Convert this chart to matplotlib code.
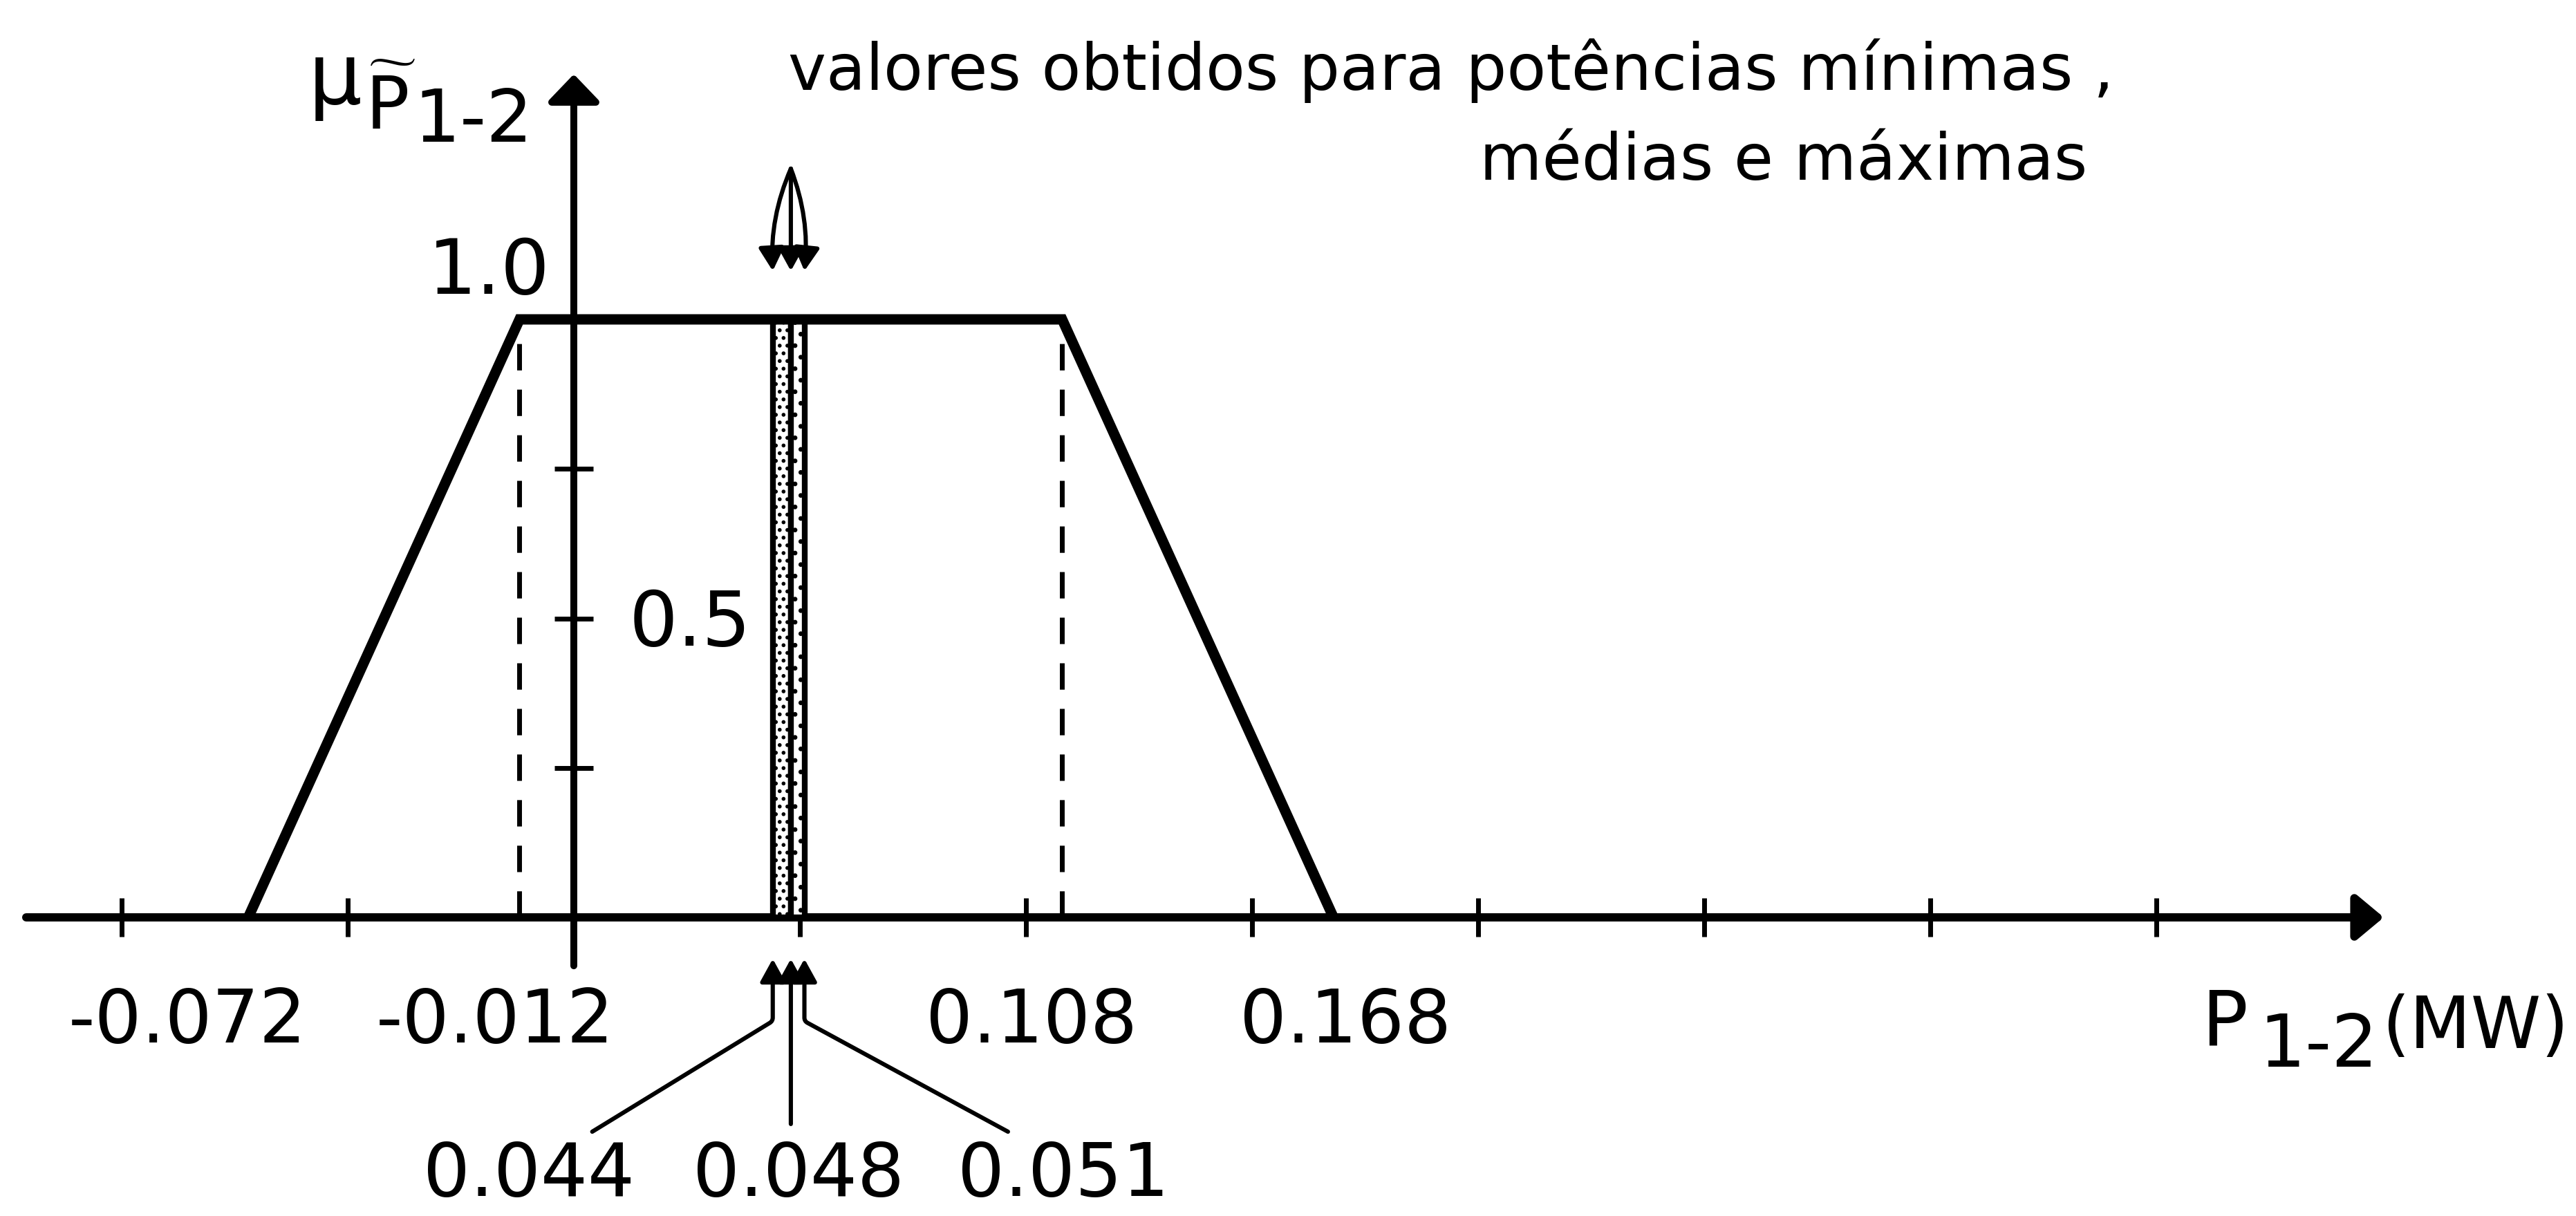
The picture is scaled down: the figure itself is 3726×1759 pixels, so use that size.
import numpy as np
import matplotlib
matplotlib.use("Agg")
import matplotlib.pyplot as plt

plt.rcParams['font.family'] = ['DejaVu Sans']
plt.rcParams['mathtext.fontset'] = 'dejavusans'
plt.rcParams['hatch.linewidth'] = 1.2
plt.rcParams['hatch.color'] = 'black'

# Trapezoidal membership function of the line flow P1-2 (MW)
trap_p = [-0.072, -0.012, 0.108, 0.168]
trap_mu = [0.0, 1.0, 1.0, 0.0]
corner_labels = ['-0.072', '-0.012', '0.108', '0.168']

# Flows obtained for minimum, mean and maximum powers (MW)
flow_p = [0.044, 0.048, 0.051]
flow_labels = ['0.044', '0.048', '0.051']

# Unlabelled axis ticks
x_ticks = [-0.10, -0.05, 0.05, 0.10, 0.15, 0.20, 0.25, 0.30, 0.35]
y_ticks = [0.25, 0.5, 0.75]

W, H, DPI = 3726, 1759, 200
fig = plt.figure(figsize=(W / DPI, H / DPI), dpi=DPI)
fig.patch.set_facecolor('white')
ax = fig.add_axes([0, 0, 1, 1])
ax.set_xlim(-0.1269, 0.4428)
ax.set_ylim(-0.4994, 1.5341)
ax.set_facecolor('white')


def fxy(px, py):
    """Figure-fraction position from pixel offsets (origin top-left)."""
    return px / W, 1 - py / H


# Axes drawn as arrows through the origin
for s in ax.spines.values():
    s.set_visible(False)
ax.spines['left'].set_position(('data', 0))
ax.spines['bottom'].set_position(('data', 0))
ax.set_xticks(x_ticks)
ax.set_yticks(y_ticks)
ax.tick_params(axis='both', direction='inout', length=20, width=2.5,
               labelbottom=False, labelleft=False, color='black')

head = dict(color='black', shrinkA=0, shrinkB=0, mutation_scale=10)
ax.annotate('', xy=(0.4003, 0), xytext=(-0.1211, 0),
            arrowprops=dict(arrowstyle='-|>,head_length=1.2,head_width=1.0',
                            lw=4.3, **head))
ax.annotate('', xy=(0, 1.41), xytext=(0, -0.081),
            arrowprops=dict(arrowstyle='-|>,head_length=1.2,head_width=1.15',
                            lw=3.6, **head))

# Membership function
ax.plot(trap_p, trap_mu, color='black', lw=5.4, solid_joinstyle='miter',
        solid_capstyle='butt', zorder=4)
for p in (trap_p[1], trap_p[2]):
    ax.plot([p, p], [0, 1], color='black', lw=2.5, linestyle=(0, (5.5, 4)),
            zorder=2)

# Shaded bands between the min / mean / max results
ax.bar(flow_p[0], 1, width=flow_p[1] - flow_p[0], align='edge',
       facecolor='white', edgecolor='black', hatch='...', lw=3, zorder=3)
ax.bar(flow_p[1], 1, width=flow_p[2] - flow_p[1], align='edge',
       facecolor='white', edgecolor='black', hatch='..', lw=3, zorder=3)

# Arrows from the value labels below the axis
small = dict(arrowstyle='-|>,head_length=1.0,head_width=0.55',
             lw=2.2, **head)
tails = [(-94, -90), (0, -86), (106, -90)]
styles = ['angle,angleA=31.5,angleB=90,rad=5', 'arc3',
          'angle,angleA=151.5,angleB=90,rad=5']
for p, off, cs in zip(flow_p, tails, styles):
    ax.annotate('', xy=(p, -0.0694), xytext=off, textcoords='offset points',
                arrowprops=dict(connectionstyle=cs, **small))

# Arrows fanning down onto the band from above
rads = [0.12, 0.0, -0.12]
for p, r in zip(flow_p, rads):
    ax.annotate('', xy=(p, 1.081), xytext=(flow_p[1], 1.252),
                arrowprops=dict(connectionstyle=f'arc3,rad={r}', **small))

# Value labels
tick_fs = 38.5
for lab, cx in zip(corner_labels, [271, 716, 1492, 1946]):
    fig.text(*fxy(cx, 1508), lab, ha='center', va='baseline',
             fontsize=tick_fs)
for lab, cx in zip(flow_labels, [765, 1155, 1538]):
    fig.text(*fxy(cx, 1730), lab, ha='center', va='baseline',
             fontsize=tick_fs)
fig.text(*fxy(796, 425), '1.0', ha='right', va='baseline', fontsize=40)
fig.text(*fxy(910, 934), '0.5', ha='left', va='baseline', fontsize=40)

# Axis titles
fig.text(*fxy(446, 150), 'μ', ha='left', va='baseline', fontsize=44)
fig.text(*fxy(528, 187), r'$\widetilde{\mathrm{P}}$', ha='left',
         va='baseline', fontsize=38)
fig.text(*fxy(598, 205), '1-2', ha='left', va='baseline', fontsize=38)

fig.text(*fxy(3184, 1512), 'P', ha='left', va='baseline', fontsize=40)
fig.text(*fxy(3267, 1543), '1-2', ha='left', va='baseline', fontsize=38)
fig.text(*fxy(3445, 1516), '(MW)', ha='left', va='baseline', fontsize=37)

# Note
fig.text(*fxy(1140, 130), 'valores obtidos para potências mínimas ,',
         ha='left', va='baseline', fontsize=33.5)
fig.text(*fxy(2140, 260), 'médias e máximas',
         ha='left', va='baseline', fontsize=33.5)

fig.savefig('out.png', dpi=DPI, facecolor='white')
